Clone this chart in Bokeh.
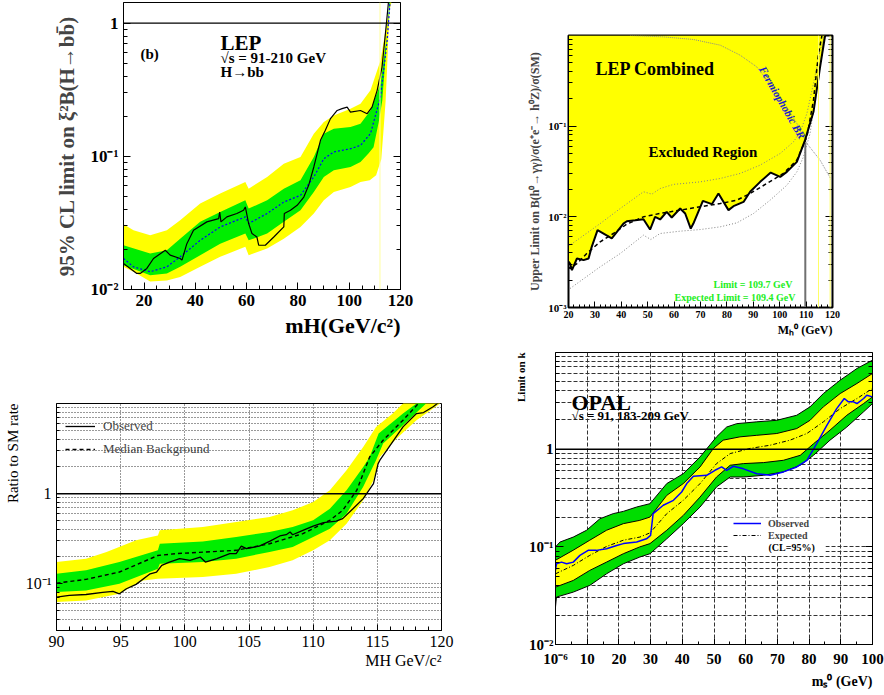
import math
from bokeh.plotting import figure
from bokeh.models import (Label, Span, FixedTicker, CustomJSTickFormatter, LogAxis,
                          Legend, LegendItem, BoxAnnotation, Title)
from bokeh.layouts import column, row
from bokeh.embed import file_html
from bokeh.resources import INLINE

SERIF = "Liberation Serif"
YELLOW = "#ffff00"
GREEN = "#00ee00"

# ---------------- Panel 1 : LEP, H->bb ----------------
p1_y2_hi_x = [12, 15.9, 22.4, 28.9, 34.1, 41.9, 49.7, 59.5, 60.8, 68.0, 74.5, 81.0, 86.2, 90.1, 94.0, 100.5, 104.4, 108.3, 112.2, 114.8, 116.7]
p1_y2_hi = [0.0309, 0.0279, 0.0256, 0.0279, 0.0331, 0.0442, 0.0525, 0.0642, 0.0572, 0.0700, 0.0881, 0.0989, 0.148, 0.181, 0.203, 0.228, 0.248, 0.313, 0.525, 1.05, 1.5]
p1_y2_lo_x = [12, 15.9, 22.4, 28.9, 34.1, 41.9, 49.7, 59.5, 60.8, 68.0, 74.5, 81.0, 86.2, 90.1, 94.0, 100.5, 104.4, 108.0, 110.5, 112.5, 113.3, 114.2, 114.8, 115.3, 116.0]
p1_y2_lo = [0.0148, 0.0136, 0.0115, 0.0117, 0.0124, 0.0148, 0.0176, 0.0209, 0.0181, 0.0203, 0.0241, 0.0295, 0.0372, 0.0468, 0.0540, 0.0589, 0.0642, 0.066, 0.072, 0.095, 0.15, 0.26, 0.47, 0.83, 1.5]
p1_y1_hi_x = [12, 22.4, 28.9, 34.1, 41.9, 49.7, 59.5, 60.8, 68.0, 74.5, 81.0, 86.2, 90.1, 94.0, 100.5, 104.4, 108.3, 112.2, 114.8, 116.1]
p1_y1_hi = [0.0215, 0.0186, 0.0197, 0.0241, 0.0322, 0.0382, 0.0468, 0.0405, 0.0468, 0.0572, 0.0661, 0.0989, 0.148, 0.161, 0.166, 0.176, 0.221, 0.351, 0.83, 1.5]
p1_y1_lo_x = [12, 22.4, 28.9, 34.1, 41.9, 49.7, 59.5, 60.8, 68.0, 74.5, 81.0, 86.2, 90.1, 94.0, 100.5, 104.4, 107.5, 109.5, 111.5, 112.9, 114.0, 114.8, 115.7]
p1_y1_lo = [0.0152, 0.0128, 0.0132, 0.0148, 0.0181, 0.0221, 0.0263, 0.0234, 0.0263, 0.0322, 0.0394, 0.054, 0.070, 0.0785, 0.0832, 0.0907, 0.105, 0.117, 0.18, 0.263, 0.5, 0.83, 1.5]
p1_exp_x = [12, 15.9, 22.4, 28.9, 34.1, 41.9, 49.7, 59.5, 60.8, 68.0, 74.5, 81.0, 86.2, 90.1, 94.0, 100.5, 104.4, 108.3, 112.2, 114.8, 116.0]
p1_exp = [0.0171, 0.0148, 0.0136, 0.0148, 0.0176, 0.0234, 0.0295, 0.0351, 0.0313, 0.0372, 0.0454, 0.051, 0.070, 0.096, 0.108, 0.114, 0.121, 0.148, 0.279, 0.74, 1.5]
p1_obs_x = [12.0, 17.2, 18.5, 21.1, 23.7, 28.3, 30.2, 34.1, 34.8, 36.7, 39.3, 44.5, 49.1, 49.5, 50.0, 52.3, 56.2, 58.8, 59.5, 60.8, 62.1, 64.0, 64.7, 67.3, 70.6, 74.5, 74.7, 77.1, 79.7, 82.3, 84.2, 86.2, 88.8, 90.7, 92.7, 95.3, 97.2, 99.2, 100.5, 104.4, 107.0, 108.9, 110.9, 112.8, 114.1, 115.4]
p1_obs = [0.0157, 0.0132, 0.0132, 0.0144, 0.0171, 0.0197, 0.0181, 0.0171, 0.0166, 0.0221, 0.0279, 0.0322, 0.0341, 0.0382, 0.0322, 0.0351, 0.0372, 0.0394, 0.0417, 0.0313, 0.0263, 0.0248, 0.0215, 0.0215, 0.0248, 0.0295, 0.0372, 0.0394, 0.0429, 0.0495, 0.0606, 0.0832, 0.132, 0.157, 0.192, 0.221, 0.228, 0.234, 0.215, 0.221, 0.209, 0.234, 0.313, 0.468, 0.83, 1.5]
p1_marks_x = [112.0]
p1_x_ticks = [20, 40, 60, 80, 100, 120]

# ---------------- Panel 2 : LEP fermiophobic ----------------
p2_obs_x = [20.0, 20.6, 21.3, 23.2, 25.7, 27.6, 28.8, 31.0, 36.4, 40.8, 42.1, 45.3, 48.4, 50.9, 52.8, 54.7, 57.2, 59.1, 62.3, 64.2, 66.3, 67.3, 70.9, 74.3, 76.8, 80.6, 82.5, 86.3, 88.8, 92.6, 96.6, 100.2, 102.7, 106.5, 109.6, 112.8, 115.3, 117.2]
p2_obs = [0.0032, 0.00305, 0.00258, 0.00347, 0.00333, 0.00347, 0.00467, 0.00713, 0.00577, 0.00843, 0.00895, 0.00918, 0.00942, 0.00724, 0.0100, 0.00935, 0.01135, 0.00984, 0.01236, 0.01089, 0.00743, 0.00843, 0.0150, 0.0138, 0.0181, 0.01186, 0.0131, 0.0146, 0.0189, 0.0243, 0.0308, 0.0276, 0.0313, 0.0404, 0.0701, 0.144, 0.451, 1.0]
p2_exp_x = [20.0, 20.6, 23.2, 26.9, 32.0, 37.0, 42.1, 48.4, 54.7, 62.3, 69.9, 77.5, 83.8, 88.8, 95.1, 101.4, 106.5, 110.3, 112.8, 114.7, 116.0]
p2_exp = [0.0028, 0.00269, 0.00305, 0.00394, 0.0053, 0.00655, 0.0083, 0.0100, 0.0109, 0.01186, 0.0129, 0.0140, 0.0153, 0.0181, 0.0233, 0.0301, 0.0422, 0.0763, 0.194, 0.632, 1.0]
p2_up_x = [20.0, 32.0, 39.6, 48.4, 51.6, 54.7, 59.8, 69.9, 77.5, 85.0, 92.6, 100.2, 105.2, 107.8, 110.3, 112.8, 115.3, 117.2]
p2_up = [0.00474, 0.00843, 0.01236, 0.0189, 0.0178, 0.0205, 0.0228, 0.0243, 0.0265, 0.0301, 0.0372, 0.050, 0.0671, 0.0866, 0.138, 0.296, 0.689, 1.0]
p2_lo_x = [20.6, 32.0, 39.6, 48.4, 51.2, 54.7, 62.3, 69.9, 77.5, 83.8, 90.1, 96.4, 102.7, 106.5, 109.0, 111.5, 113.4, 115.3, 116.8]
p2_lo = [0.00162, 0.00281, 0.00394, 0.00628, 0.00562, 0.00655, 0.00695, 0.00724, 0.00776, 0.00859, 0.0109, 0.0153, 0.0223, 0.0313, 0.0459, 0.083, 0.194, 0.451, 1.0]
p2_br_x = [43.4, 56.0, 67.3, 77.5, 85.0, 91.3, 97.7, 102.7, 106.5, 110.3, 115.3, 120.0]
p2_br = [1.0, 0.966, 0.904, 0.782, 0.607, 0.451, 0.26, 0.163, 0.107, 0.0644, 0.0422, 0.0243]
p2_limit_mass = [109.7]
p2_limit_level = [0.066]
p2_marks_x = [114.7, 119.1]
p2_x_ticks = [20, 30, 40, 50, 60, 70, 80, 90, 100, 110, 120]

# ---------------- Panel 3 : ratio to SM rate ----------------
p3_y2_hi_x = [90.0, 92.3, 93.9, 96.2, 97.9, 98.05, 101.4, 104.0, 106.6, 108.4, 110.0, 111.3, 112.6, 113.9, 114.9, 116.2, 117.0, 117.6]
p3_y2_hi = [0.174, 0.19, 0.225, 0.303, 0.344, 0.392, 0.426, 0.484, 0.551, 0.653, 0.808, 1.09, 1.82, 3.3, 5.5, 7.74, 10.0, 12.0]
p3_y2_lo_x = [90.0, 92.3, 94.9, 96.75, 97.9, 101.4, 104.0, 106.6, 108.4, 110.0, 111.3, 112.6, 113.9, 114.7, 115.2, 116.5, 118.05, 119.9, 120.0]
p3_y2_lo = [0.0626, 0.0653, 0.0774, 0.109, 0.114, 0.119, 0.129, 0.153, 0.182, 0.235, 0.303, 0.464, 0.843, 1.41, 2.55, 4.08, 6.53, 10.0, 12.0]
p3_y1_hi_x = [90.0, 92.3, 94.9, 97.9, 98.05, 101.4, 104.0, 106.6, 108.4, 110.0, 111.3, 112.6, 113.9, 114.4, 115.1, 117.0, 118.05, 118.6]
p3_y1_hi = [0.129, 0.141, 0.174, 0.235, 0.278, 0.295, 0.33, 0.375, 0.426, 0.506, 0.681, 1.09, 1.98, 2.55, 4.64, 7.74, 10.0, 12.0]
p3_y1_lo_x = [90.0, 92.3, 94.9, 97.9, 98.05, 101.4, 104.0, 106.6, 108.4, 110.0, 111.3, 112.6, 113.9, 114.9, 115.45, 117.0, 118.8, 119.3]
p3_y1_lo = [0.0808, 0.0843, 0.100, 0.147, 0.167, 0.174, 0.19, 0.225, 0.255, 0.33, 0.408, 0.60, 1.19, 2.35, 3.59, 5.74, 10.0, 12.0]
p3_med_x = [90.0, 92.3, 94.9, 97.9, 99.35, 104.0, 106.6, 109.2, 111.3, 112.3, 113.4, 114.4, 115.45, 117.0, 118.2, 118.8]
p3_med = [0.1016, 0.112, 0.135, 0.206, 0.216, 0.235, 0.278, 0.36, 0.506, 0.653, 1.09, 2.55, 3.91, 6.53, 10.0, 12.0]
p3_obs_x = [90.0, 91.0, 92.3, 93.6, 94.4, 94.9, 95.45, 96.2, 97.3, 97.8, 98.2, 98.8, 99.6, 100.4, 101.2, 101.6, 102.5, 103.5, 104.0, 104.4, 104.8, 105.8, 106.6, 107.4, 107.9, 108.2, 108.4, 109.2, 110.0, 110.8, 111.8, 112.3, 113.1, 113.9, 114.7, 115.06, 115.2, 116.0, 117.0, 118.05, 118.6, 119.35, 119.6, 120.0]
p3_obs = [0.0711, 0.0742, 0.076, 0.0801, 0.0822, 0.0774, 0.088, 0.0984, 0.129, 0.135, 0.16, 0.174, 0.19, 0.182, 0.198, 0.174, 0.19, 0.216, 0.216, 0.262, 0.245, 0.262, 0.295, 0.339, 0.35, 0.375, 0.35, 0.392, 0.437, 0.476, 0.496, 0.528, 0.681, 0.88, 1.29, 2.15, 2.35, 3.44, 5.5, 7.74, 7.94, 9.2, 9.8, 11.0]
p3_x_ticks = [90, 95, 100, 105, 110, 115, 120]

# ---------------- Panel 4 : OPAL ----------------
p4_g_hi_x = [0, 1.4, 5.6, 9.8, 14.0, 18.2, 21.4, 25.6, 29.8, 35.1, 40.3, 45.6, 50.8, 54.0, 57.2, 63.5, 69.8, 76.1, 80.3, 84.5, 89.8, 95.1, 100]
p4_g_hi = [0.1, 0.112, 0.126, 0.148, 0.194, 0.219, 0.231, 0.256, 0.277, 0.445, 0.562, 0.834, 1.34, 1.69, 1.83, 1.91, 1.98, 2.23, 2.72, 3.72, 5.1, 6.72, 8.18]
p4_g_lo_x = [0, 0.3, 5.6, 10.8, 16.1, 21.4, 26.6, 29.8, 35.1, 40.3, 45.6, 50.8, 55.1, 59.3, 65.6, 71.9, 77.2, 81.4, 86.6, 91.9, 97.2, 100]
p4_g_lo = [0.0242, 0.0306, 0.0344, 0.0403, 0.053, 0.0671, 0.0787, 0.0851, 0.121, 0.173, 0.256, 0.411, 0.52, 0.52, 0.541, 0.586, 0.686, 0.867, 1.24, 1.69, 2.42, 2.94]
p4_y_hi_x = [0, 5.6, 10.8, 16.1, 21.4, 26.6, 29.8, 35.1, 40.3, 45.6, 49.8, 52.9, 58.2, 63.5, 69.8, 76.1, 80.3, 84.5, 89.8, 95.1, 100]
p4_y_hi = [0.073, 0.0925, 0.117, 0.148, 0.173, 0.187, 0.202, 0.337, 0.445, 0.659, 1.02, 1.24, 1.34, 1.39, 1.45, 1.63, 1.98, 2.72, 3.72, 4.72, 5.97]
p4_y_lo_x = [0, 5.6, 10.8, 16.1, 21.4, 26.6, 29.8, 35.1, 40.3, 45.6, 50.8, 55.1, 59.3, 65.6, 71.9, 77.2, 81.4, 86.6, 91.9, 97.2, 100]
p4_y_lo = [0.0387, 0.0453, 0.0574, 0.0698, 0.0851, 0.100, 0.108, 0.148, 0.21, 0.324, 0.52, 0.686, 0.713, 0.73, 0.771, 0.867, 1.14, 1.57, 2.23, 2.94, 3.44]
p4_exp_x = [0, 5.6, 10.8, 16.1, 21.4, 26.6, 29.8, 35.1, 40.3, 45.6, 50.8, 55.1, 61.4, 67.7, 74.0, 79.3, 84.5, 89.8, 95.1, 100]
p4_exp = [0.053, 0.0646, 0.0818, 0.101, 0.117, 0.126, 0.139, 0.219, 0.30, 0.445, 0.713, 0.903, 1.02, 1.10, 1.24, 1.45, 1.91, 2.61, 3.31, 4.19]
p4_obs_x = [0, 0.3, 1.9, 3.5, 5.6, 7.7, 10.3, 12.9, 16.1, 19.3, 21.4, 25.6, 28.7, 30.0, 30.8, 34.0, 37.2, 39.8, 41.4, 43.5, 47.7, 50.3, 52.4, 54.0, 56.1, 59.3, 63.5, 67.7, 71.9, 76.1, 79.3, 82.4, 85.6, 88.7, 91.1, 92.4, 94.0, 95.1, 97.2, 98.2, 100]
p4_obs = [0.0574, 0.0671, 0.0698, 0.0671, 0.0698, 0.0818, 0.0921, 0.0921, 0.0957, 0.1035, 0.108, 0.112, 0.121, 0.131, 0.219, 0.267, 0.30, 0.365, 0.445, 0.529, 0.541, 0.609, 0.659, 0.609, 0.67, 0.63, 0.562, 0.541, 0.586, 0.659, 0.771, 1.14, 1.76, 2.61, 3.31, 3.06, 3.06, 2.94, 3.31, 3.58, 3.44]
p4_x_ticks = [0, 10, 20, 30, 40, 50, 60, 70, 80, 90, 100]


def decades(lo, hi):
    return [k * 10.0 ** e for e in range(lo, hi) for k in range(2, 10)]


def log_fmt():
    return CustomJSTickFormatter(code="""
        const s = {"-": "\\u207b", "0": "\\u2070", "1": "\\u00b9", "2": "\\u00b2", "3": "\\u00b3",
                   "4": "\\u2074", "5": "\\u2075", "6": "\\u2076", "7": "\\u2077", "8": "\\u2078", "9": "\\u2079"};
        const e = Math.round(Math.log10(tick));
        if (e === 0) { return "1"; }
        return "10" + String(e).split("").map((c) => s[c]).join("");
    """)


def blank_fmt():
    return CustomJSTickFormatter(code="return '';")


def make_fig(xr, yr, fw, fh, bl, br, bt, bb):
    p = figure(x_range=xr, y_range=yr, y_axis_type="log", frame_width=fw, frame_height=fh,
               min_border_left=bl, min_border_right=br, min_border_top=bt, min_border_bottom=bb,
               output_backend="svg", toolbar_location=None, title=None)
    p.background_fill_color = "white"
    p.border_fill_color = "white"
    p.outline_line_color = "black"
    p.outline_line_width = 1
    p.xgrid.visible = False
    p.ygrid.visible = False
    return p


def style_axis(ax, size, bold=True, tick_in=7, minor_in=4, standoff=4):
    ax.major_label_text_font = SERIF
    ax.major_label_text_font_size = f"{size}px"
    ax.major_label_text_font_style = "bold" if bold else "normal"
    ax.major_label_text_color = "black"
    ax.major_tick_in = tick_in
    ax.major_tick_out = 0
    ax.minor_tick_in = minor_in
    ax.minor_tick_out = 0
    ax.major_label_standoff = standoff
    ax.axis_line_color = "black"
    ax.major_tick_line_color = "black"
    ax.minor_tick_line_color = "black"


def lab(p, x, y, text, size, color="black", style="bold", align="left",
        baseline="alphabetic", angle=0.0):
    p.add_layout(Label(x=x, y=y, x_units="screen", y_units="screen", text=text,
                       text_font=SERIF, text_font_size=f"{size}px", text_font_style=style,
                       text_color=color, text_align=align, text_baseline=baseline, angle=angle))


def side_title(p, place, text, size, style="bold", standoff=0):
    t = Title(text=text, align="right", text_font=SERIF, text_font_size=f"{size}px",
              text_font_style=style, text_color="black", standoff=standoff, offset=0)
    p.add_layout(t, place)


def band(p, xh, yh, xl, yl, color, line_color=None):
    xs = list(xh) + list(xl)[::-1]
    ys = list(yh) + list(yl)[::-1]
    if line_color is None:
        p.patch(xs, ys, fill_color=color, line_color=None)
    else:
        p.patch(xs, ys, fill_color=color, line_color=line_color, line_width=1)


def right_axis(p, ticks, minor):
    ax = LogAxis(ticker=FixedTicker(ticks=ticks, minor_ticks=minor), formatter=blank_fmt())
    style_axis(ax, 1)
    ax.major_label_standoff = 0
    p.add_layout(ax, "right")


# ================= Panel 1 =================
p1 = make_fig((12, 120), (0.01, 1.43), 277, 287, 123, 40, 2, 56)
band(p1, p1_y2_hi_x, p1_y2_hi, p1_y2_lo_x, p1_y2_lo, YELLOW)
band(p1, p1_y1_hi_x, p1_y1_hi, p1_y1_lo_x, p1_y1_lo, GREEN)
for mx in p1_marks_x:
    p1.add_layout(Span(location=mx, dimension="height", line_color="#ffffa0", line_width=1))
p1.line(p1_exp_x, p1_exp, line_color="#0000ff", line_dash="2 2", line_width=1.2)
p1.line(p1_obs_x, p1_obs, line_color="black", line_width=1.2)
p1.add_layout(Span(location=1.0, dimension="width", line_color="black", line_width=1.3))
p1.xaxis.ticker = FixedTicker(ticks=p1_x_ticks, minor_ticks=list(range(15, 121, 5)))
p1.yaxis.ticker = FixedTicker(ticks=[0.01, 0.1, 1.0], minor_ticks=decades(-2, 1))
p1.yaxis.formatter = log_fmt()
style_axis(p1.xaxis[0], 17, standoff=5)
style_axis(p1.yaxis[0], 17, standoff=5)
p1.yaxis.axis_label = "95% CL limit on \u03be\u00b2B(H\u2192bb\u0304)"
p1.yaxis.axis_label_text_font = SERIF
p1.yaxis.axis_label_text_font_size = "21px"
p1.yaxis.axis_label_text_font_style = "bold"
p1.yaxis.axis_label_standoff = 8
right_axis(p1, [0.01, 0.1, 1.0], decades(-2, 1))
lab(p1, 17, 236, "(b)", 15)
lab(p1, 97, 247, "LEP", 21)
lab(p1, 97, 232, "\u221as = 91-210 GeV", 15)
lab(p1, 97, 218, "H\u2192bb", 15)
side_title(p1, "below", "mH(GeV/c\u00b2)", 22, standoff=4)

# ================= Panel 2 =================
p2 = make_fig((20, 120), (0.001, 1.0), 264, 272, 128, 52, 35, 38)
p2.outline_line_width = 2
p2.patch(p2_obs_x + [p2_obs_x[-1], p2_obs_x[0]], p2_obs + [1.0, 1.0],
         fill_color=YELLOW, line_color=None)
for mx in p2_marks_x:
    p2.add_layout(Span(location=mx, dimension="height", line_color="#ffff66", line_width=1))
p2.line(p2_up_x, p2_up, line_color="#808080", line_dash="1 2", line_width=1)
p2.line(p2_lo_x, p2_lo, line_color="#808080", line_dash="1 2", line_width=1)
p2.line(p2_br_x, p2_br, line_color="#8a8a8a", line_dash="1 1", line_width=1)
p2.segment(x0=p2_limit_mass, y0=[0.001], x1=p2_limit_mass, y1=p2_limit_level,
           line_color="#707070", line_width=2)
p2.line(p2_exp_x, p2_exp, line_color="black", line_dash="4 3", line_width=1.5)
p2.line(p2_obs_x, p2_obs, line_color="black", line_width=2)
p2.xaxis.ticker = FixedTicker(ticks=p2_x_ticks, minor_ticks=list(range(20, 121, 2)))
p2.yaxis.ticker = FixedTicker(ticks=[0.001, 0.01, 0.1], minor_ticks=decades(-3, 0))
p2.yaxis.formatter = log_fmt()
style_axis(p2.xaxis[0], 10, tick_in=6, minor_in=3, standoff=3)
style_axis(p2.yaxis[0], 11, tick_in=8, minor_in=4, standoff=2)
p2.yaxis.axis_label = "Upper Limit on B(h\u2070\u2192\u03b3\u03b3)/\u03c3(e\u207ae\u207b\u2192 h\u2070Z)/\u03c3(SM)"
p2.yaxis.axis_label_text_font = SERIF
p2.yaxis.axis_label_text_font_size = "12px"
p2.yaxis.axis_label_text_font_style = "bold"
p2.yaxis.axis_label_standoff = 3
right_axis(p2, [0.001, 0.01, 0.1], decades(-3, 0))
lab(p2, 27, 239, "LEP Combined", 18)
lab(p2, 80, 156, "Excluded Region", 15)
lab(p2, 214, 205, "Fermiophobic BR", 11, color="#1a1acc", style="bold italic",
    align="center", baseline="middle", angle=-1.05)
lab(p2, 224, 23, "Limit = 109.7 GeV", 10, color="#22ee22", align="right")
lab(p2, 227, 10, "Expected Limit = 109.4 GeV", 10, color="#22ee22", align="right")
side_title(p2, "below", "M\u2095\u2070 (GeV)", 12, standoff=0)

# ================= Panel 3 =================
p3 = make_fig((90, 120), (0.0303, 10.0), 385, 227, 53, 62, 58, 65)
p3.xgrid.visible = True
p3.ygrid.visible = True
p3.xgrid.grid_line_color = "#333333"
p3.xgrid.grid_line_dash = "1 2"
p3.ygrid.grid_line_color = "#333333"
p3.ygrid.grid_line_dash = "1 2"
p3.ygrid.minor_grid_line_color = "#333333"
p3.ygrid.minor_grid_line_dash = "1 2"
band(p3, p3_y2_hi_x, p3_y2_hi, p3_y2_lo_x, p3_y2_lo, YELLOW)
band(p3, p3_y1_hi_x, p3_y1_hi, p3_y1_lo_x, p3_y1_lo, GREEN)
r3_med = p3.line(p3_med_x, p3_med, line_color="black", line_dash="4 3", line_width=1.4)
r3_obs = p3.line(p3_obs_x, p3_obs, line_color="black", line_width=1.3)
p3.add_layout(Span(location=1.0, dimension="width", line_color="black", line_width=1.5))
p3.xaxis.ticker = FixedTicker(ticks=p3_x_ticks, minor_ticks=list(range(90, 121)))
p3.yaxis.ticker = FixedTicker(ticks=[0.1, 1.0], minor_ticks=decades(-2, 1))
p3.yaxis.formatter = log_fmt()
style_axis(p3.xaxis[0], 16, bold=False, tick_in=6, minor_in=4, standoff=5)
style_axis(p3.yaxis[0], 16, bold=False, tick_in=6, minor_in=3, standoff=5)
leg3 = Legend(items=[LegendItem(label="Observed", renderers=[r3_obs]),
                     LegendItem(label="Median Background", renderers=[r3_med])],
              location=(9, 171), orientation="vertical")
leg3.background_fill_alpha = 0
leg3.border_line_alpha = 0
leg3.padding = 0
leg3.margin = 0
leg3.spacing = 3
leg3.glyph_width = 30
leg3.glyph_height = 20
leg3.label_height = 20
leg3.label_standoff = 8
leg3.label_text_font = SERIF
leg3.label_text_font_size = "13px"
p3.add_layout(leg3)
side_title(p3, "left", "Ratio to SM rate", 15, style="normal", standoff=4)
side_title(p3, "below", "MH GeV/c\u00b2", 16, style="normal", standoff=0)

# ================= Panel 4 =================
p4 = make_fig((0, 100), (0.01, 9.8), 317, 292, 52, 15, 7, 51)
p4.xgrid.visible = True
p4.ygrid.visible = True
p4.xgrid.grid_line_color = "#333333"
p4.xgrid.grid_line_dash = "4 2"
p4.ygrid.grid_line_color = "#333333"
p4.ygrid.grid_line_dash = "4 2"
p4.ygrid.minor_grid_line_color = "#333333"
p4.ygrid.minor_grid_line_dash = "4 2"
band(p4, p4_g_hi_x, p4_g_hi, p4_g_lo_x, p4_g_lo, "#00dd00", line_color="black")
band(p4, p4_y_hi_x, p4_y_hi, p4_y_lo_x, p4_y_lo, YELLOW, line_color="black")
r4_exp = p4.line(p4_exp_x, p4_exp, line_color="black", line_dash="4 2 1 2", line_width=1)
r4_obs = p4.line(p4_obs_x, p4_obs, line_color="#0000ff", line_width=1.5)
p4.add_layout(Span(location=1.0, dimension="width", line_color="black", line_width=1.5))
p4.xaxis.ticker = FixedTicker(ticks=p4_x_ticks, minor_ticks=list(range(0, 101, 5)))
p4.xaxis.formatter = CustomJSTickFormatter(
    code="return tick === 0 ? '10\\u207b\\u2076' : tick.toFixed(0);")
p4.yaxis.ticker = FixedTicker(ticks=[0.01, 0.1, 1.0], minor_ticks=decades(-2, 1))
p4.yaxis.formatter = log_fmt()
style_axis(p4.xaxis[0], 15, tick_in=6, minor_in=3, standoff=6)
style_axis(p4.yaxis[0], 15, tick_in=8, minor_in=4, standoff=2)
right_axis(p4, [0.01, 0.1, 1.0], decades(-2, 1))
p4.add_layout(BoxAnnotation(left=173, right=270, bottom=89, top=127,
                            left_units="screen", right_units="screen",
                            bottom_units="screen", top_units="screen",
                            fill_color="white", fill_alpha=1.0, line_color=None))
leg4 = Legend(items=[LegendItem(label="Observed", renderers=[r4_obs]),
                     LegendItem(label="Expected", renderers=[r4_exp])],
              location=(178, 103), orientation="vertical")
leg4.background_fill_alpha = 0
leg4.border_line_alpha = 0
leg4.padding = 0
leg4.margin = 0
leg4.spacing = 0
leg4.glyph_width = 28
leg4.glyph_height = 12
leg4.label_height = 12
leg4.label_standoff = 7
leg4.label_text_font = SERIF
leg4.label_text_font_size = "10px"
leg4.label_text_font_style = "bold"
p4.add_layout(leg4)
lab(p4, 213, 97, "(CL=95%)", 10, baseline="middle")
lab(p4, 16, 242, "OPAL", 22)
lab(p4, 16, 229, "\u221as = 91, 183-209 GeV", 13)
side_title(p4, "left", "Limit on k", 11, standoff=0)
side_title(p4, "below", "m\u209b\u2070 (GeV)", 14, standoff=4)

layout = column(row(column(p1), column(p2)), row(column(p3), column(p4)))
open("out.html", "w").write(file_html(layout, INLINE))
